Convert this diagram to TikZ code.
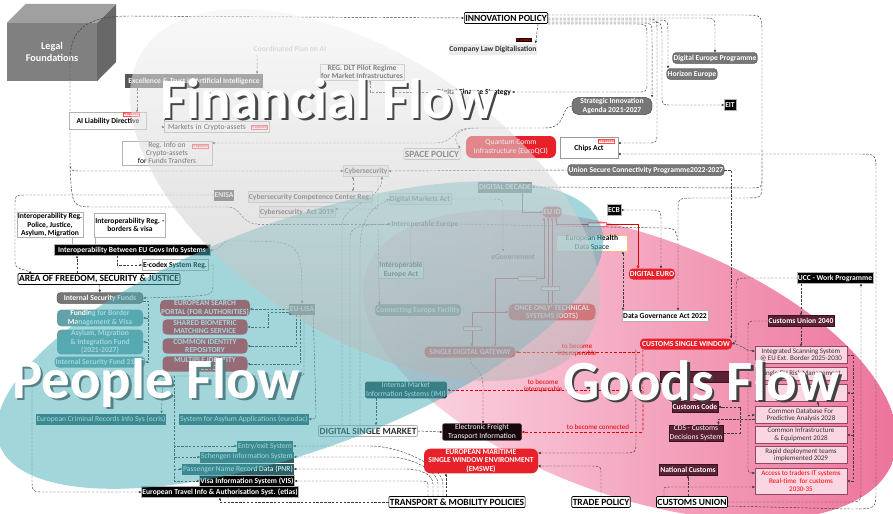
\documentclass[tikz,border=0pt]{standalone}
\usepackage{fontspec}
\setmainfont{Carlito}
\usetikzlibrary{shapes, arrows, calc, positioning, arrows.meta}
\definecolor{xRed}{RGB}{232,32,42}
\definecolor{xPill}{RGB}{118,118,118}
\definecolor{xDarkBox}{RGB}{88,88,88}
\definecolor{xMaroon}{RGB}{92,32,52}
\definecolor{xPinkBox}{RGB}{246,186,206}
\definecolor{xPinkEdge}{RGB}{150,70,100}
\definecolor{xTealDark}{RGB}{40,98,102}
\definecolor{xTealPill}{RGB}{98,162,168}
\definecolor{xTeal}{RGB}{78,176,186}
\definecolor{xLine}{RGB}{60,60,60}
\definecolor{xPinkL}{RGB}{253,226,235}
\definecolor{xPinkR}{RGB}{236,112,152}
\definecolor{xOrangeEdge}{RGB}{240,190,120}
\definecolor{xCubeFront}{RGB}{128,128,128}
\definecolor{xCubeTop}{RGB}{160,160,160}
\definecolor{xCubeSide}{RGB}{104,104,104}

\pgfdeclarelayer{bg}
\pgfdeclarelayer{lines}
\pgfdeclarelayer{veil}
\pgfdeclarelayer{top}
\pgfsetlayers{bg,lines,main,veil,top}

\newcommand{\pw}{0.05cm}

\tikzset{
  base/.style={inner sep=1.3pt, align=center, minimum height=11*\pw, font=\fontsize{10.8}{11.8}\selectfont\bfseries},
  boxw/.style={base, draw=gray!60, fill=white},
  boxlg/.style={base, draw=gray!45, fill=gray!12, text=gray!60!black},
  boxdg/.style={base, fill=xDarkBox, text=white},
  boxblk/.style={base, fill=black, text=white, draw=gray!60},
  pillg/.style={base, fill=xPill, draw=gray!40!black, text=white, rounded corners=5pt},
  pillr/.style={base, fill=xRed, text=white, rounded corners=6pt},
  pillt/.style={base, fill=xTealPill, text=white, rounded corners=6pt},
  boxm/.style={base, fill=xMaroon, text=white, draw=xMaroon!60!black},
  boxp/.style={base, font=\fontsize{10}{11}\selectfont, fill=xPinkBox!60, draw=xPinkEdge, text=black!80},
  boxt/.style={base, font=\fontsize{10.8}{11.8}\selectfont, fill=xTealDark, text=white},
  policy/.style={base, font=\fontsize{13.5}{14}\selectfont\bfseries, draw=black, line width=0.9pt, fill=white, rounded corners=1.5pt, inner sep=1.4pt},
  cube/.style={fill=xCubeFront, text=white, align=center, font=\fontsize{14.5}{17}\selectfont\bfseries},
  tag/.style={draw=red!70, fill=white, text=red!85, font=\fontsize{5.5}{6}\selectfont\bfseries, inner sep=0.6pt},
  dep/.style={draw=red!60, fill=white, text=red!70, font=\fontsize{5}{5.5}\selectfont, inner sep=0.6pt},
  redtxt/.style={text=red!85!black, font=\fontsize{10}{10.5}\selectfont, align=center, inner sep=0pt},
  connl/.style={draw=xLine, dash pattern=on 3.5pt off 2pt, line width=0.65pt},
  conn/.style={connl, -{Triangle[length=3.5pt,width=3.2pt]}},
  conn2/.style={connl, {Triangle[length=3.5pt,width=3.2pt]}-{Triangle[length=3.5pt,width=3.2pt]}},
  glink/.style={draw=gray!55!black, line width=0.8pt, -{Triangle[length=3.5pt,width=3.2pt]}},
  thin/.style={draw=gray!60, line width=0.6pt},
  rdash/.style={draw=red!85!black, dash pattern=on 4pt off 2.5pt, line width=0.9pt},
  rconn/.style={rdash, -{Triangle[length=4pt,width=3.5pt]}},
  rline/.style={draw=red!85!black, line width=0.9pt, -{Triangle[length=4pt,width=3.5pt]}},
  rdia/.style={rline, {Diamond[open,length=5pt,width=4pt]}-{Triangle[length=4pt,width=3.5pt]}},
  title/.style={anchor=base west, inner sep=0pt, font=\fontsize{81}{81}\selectfont\bfseries},
}

\begin{document}
\begin{tikzpicture}[x=0.05cm, y=-0.05cm]
  \useasboundingbox (0,0) rectangle (893,513);

  % goods flow ellipse and the legal cube at the back
  \begin{pgfonlayer}{bg}
    \shade[left color=xPinkL, right color=xPinkR, rotate around={-20:(630,365)}] (630,365) ellipse (280 and 130);
    \node[cube, minimum width=90*\pw, minimum height=58*\pw] (legal) at (52,52) {Legal\\Foundations};
    \fill[xCubeTop] (legal.north west) -- ++(19,-19) -- ++(90,0) -- (legal.north east) -- cycle;
    \fill[xCubeSide] (legal.north east) -- ++(19,-19) -- ++(0,58) -- (legal.south east) -- cycle;
  \end{pgfonlayer}

  % financial flow
  \node[base, text=gray!50] (coordai) at (290,49) {Coordinated Plan on AI};
  \node[boxdg, minimum width=138*\pw, minimum height=14*\pw] (excel) at (194,81) {Excellence \& Trust in Artificial Intelligence};
  \node[boxw] (dlt) at (362,72) {REG. DLT Pilot Regime\\for Market Infrastructures};
  \node[boxw, minimum width=77*\pw, minimum height=17*\pw] (ailia) at (108,121) {AI Liability Directive};
  \node[tag] at (131,114) {Proposed};
  \node[boxw, font=\fontsize{10.8}{11.8}\selectfont, minimum width=105*\pw, text width=98*\pw, align=left] (mica) at (217,127) {Markets in Crypto-assets};
  \node[tag] at (259,127) {Proposed};
  \node[boxw, font=\fontsize{10.8}{11.8}\selectfont, minimum width=90*\pw] (regcrypto) at (167,153) {Reg. Info on\\Crypto-assets\\for Funds Transfers};
  \node[tag] at (200,146) {Proposed};
  \node[base, text=black] (strat) at (474,92) {Digital Finance Strategy};
  \node[policy, draw=gray!60, text=gray!45!black] (space) at (432,154) {SPACE POLICY};
  \node[pillr, font=\fontsize{10.8}{11.8}\selectfont, minimum width=90*\pw, minimum height=22*\pw, rounded corners=9pt] (euroqci) at (511,147) {Quantum Comm\\Infrastructure (EuroQCI)};

  % innovation policy
  \node[policy] (innov) at (506,18) {INNOVATION POLICY};
  \node[fill=black, text=red, font=\fontsize{5.5}{6}\selectfont\bfseries, inner sep=0.8pt] (planned) at (524,40) {PLANNED};
  \node[base, fill=gray!15, text=black!80] (complaw) at (493,49) {Company Law Digitalisation};
  \node[pillg] (digeu) at (715,58) {Digital Europe Programme};
  \node[pillg] (horizon) at (692,74) {Horizon Europe};
  \node[boxblk] (eit) at (730,105) {EIT};
  \node[pillg, rounded corners=8pt, minimum width=80*\pw] (sia) at (612,106) {Strategic Innovation\\Agenda 2021-2027};
  \node[boxw, draw=gray!80, minimum width=58*\pw, minimum height=21*\pw] (chips) at (589,148) {Chips Act};
  \node[tag] at (606,141) {Proposed};
  \node[pillg] (uscp) at (646,170) {Union Secure Connectivity Programme2022-2027};

  % digital band
  \node[boxlg] (cyber) at (366,171) {Cybersecurity};
  \node[boxdg] (enisa) at (224,195) {ENISA};
  \node[boxlg] (cccr) at (310,197) {Cybersecurity Competence Center Reg.};
  \node[boxlg] (csa) at (297,212) {Cybersecurity~~Act 2019};
  \node[boxlg] (dma) at (420,199) {Digital Markets Act};
  \node[base, text=gray!55!black] (ieu) at (425,224) {Interoperable Europe};
  \node[boxdg] (ddec) at (505,187) {DIGITAL DECADE};
  \node[pillr] (euid) at (552,212) {EU ID};
  \node[boxblk] (ecb) at (614,210) {ECB};
  \node[boxw, draw=xOrangeEdge, font=\fontsize{10.8}{11.8}\selectfont, minimum width=71*\pw] (ehds) at (592,243) {European \textbf{Health}\\Data Space};
  \node[base, text=gray!55!black] (egov) at (513,257) {eGovernment};
  \node[pillr] (deuro) at (652,274) {DIGITAL EURO};
  \node[boxw] (dga) at (665,316) {Data Governance Act 2022};
  \node[boxw] (ieact) at (401,270) {Interoperable\\Europe Act};
  \node[pillg] (cef) at (418,310) {Connecting Europe Facility};
  \node[pillr, minimum width=87*\pw, rounded corners=8pt] (oots) at (552,312) {ONCE ONLY' TECHNICAL\\SYSTEMS (OOTS)};
  \node[pillr, minimum width=91*\pw] (sdg) at (470,352) {SINGLE DIGITAL GATEWAY};
  \node[pillr, minimum width=92*\pw] (csw) at (686,344) {CUSTOMS SINGLE WINDOW};
  \node[boxt, fill=xTealDark!75!black, rounded corners=2pt, minimum width=77*\pw] (imi) at (406,390) {Internal Market\\Information Systems (IMI)};
  \node[boxm, font=\fontsize{10.8}{11.8}\selectfont, fill=black!75!xMaroon, rounded corners=2pt, minimum width=79*\pw] (efti) at (482,432) {Electronic Freight\\Transport Information};
  \node[pillr, rounded corners=9pt, minimum width=114*\pw] (emswe) at (481,461) {EUROPEAN MARITIME\\SINGLE WINDOW ENVIRONMENT\\(EMSWE)};
  \node[policy] (tmp) at (457,502) {TRANSPORT \& MOBILITY POLICIES};
  \node[policy] (trade) at (601,502) {TRADE POLICY};
  \node[policy] (cunion) at (692,502) {CUSTOMS UNION};
  \node[policy, draw=gray!60, text=gray!35!black] (dsm) at (368,431) {DIGITAL SINGLE MARKET};

  % goods flow
  \node[boxblk] (ucc) at (835,278) {UCC - Work Programme};
  \node[boxm] (cu2040) at (801,321) {Customs Union 2040};
  \node[boxp, minimum width=92*\pw, minimum height=17*\pw] (iss) at (801,355) {Integrated Scanning System\\@ EU Ext. Border 2025-2030};
  \node[boxp, minimum width=92*\pw, minimum height=13*\pw] (rm) at (801,374) {Single EU Risk Management};
  \node[boxp, minimum width=92*\pw, minimum height=17*\pw] (hid) at (801,393) {};
  \node[boxp, minimum width=92*\pw, minimum height=17*\pw] (cdb) at (801,415) {Common Database For\\Predictive Analysis 2028};
  \node[boxp, minimum width=92*\pw, minimum height=17*\pw] (cie) at (801,435) {Common Infrastructure\\\& Equipment 2028};
  \node[boxp, minimum width=92*\pw, minimum height=17*\pw] (rdt) at (801,455) {Rapid deployment teams\\implemented 2029};
  \node[boxp, minimum width=92*\pw, minimum height=26*\pw, text=red] (atr) at (801,481) {Access to traders IT systems\\Real-time~~for customs\\2030-35};
  \node[boxm, minimum width=72*\pw] (adv) at (696,377) {};
  \node[boxm] (ccode) at (695,407) {Customs Code};
  \node[boxm, font=\fontsize{10.8}{11.8}\selectfont] (cds) at (696,433) {CDS - Customs\\Decisions System};
  \node[boxm] (natc) at (688,470) {National Customs};

  % people flow
  \node[boxw, minimum width=65*\pw] (irpol) at (50,225) {Interoperability Reg.\\Police, Justice,\\Asylum, Migration};
  \node[boxw, minimum width=71*\pw, minimum height=24*\pw] (irbor) at (130,225) {Interoperability Reg. -\\borders \& visa};
  \node[boxblk, minimum width=156*\pw] (ibeu) at (132,250) {Interoperability Between EU Govs Info Systems};
  \node[boxw] (ecodex) at (175,265) {E-codex System Reg.};
  \node[policy] (afsj) at (99,279) {AREA OF FREEDOM, SECURITY \& JUSTICE};
  \node[pillg, minimum width=86*\pw] (isf) at (100,298) {Internal Security Funds};
  \node[pillt, minimum width=86*\pw] (fbm) at (100,318) {Funding for Border\\Management \& Visa};
  \node[pillt, minimum width=86*\pw] (amif) at (100,342) {Asylum, Migration\\\& Integration Fund\\(2021-2027)};
  \node[pillt, minimum width=86*\pw] (isf21) at (100,362) {Internal Security Fund 21-27};
  \node[boxdg] (eulisa) at (302,309) {EU-LISA};
  \node[pillr, minimum width=85*\pw] (esp) at (205,308) {EUROPEAN SEARCH\\PORTAL (FOR AUTHORITIES)};
  \node[pillr, minimum width=85*\pw] (sbms) at (205,327) {SHARED BIOMETRIC\\MATCHING SERVICE};
  \node[pillr, minimum width=85*\pw] (cir) at (205,346) {COMMON IDENTITY\\REPOSITORY};
  \node[pillr, minimum width=85*\pw] (mid) at (205,364) {MULTIPLE IDENTITY\\DETECTOR};
  \node[boxt] (ecris) at (101,419) {European Criminal Records Info Sys (ecris)};
  \node[boxt] (eurodac) at (244,419) {System for Asylum Applications (eurodac)};
  \node[boxt] (ees) at (265,446) {Entry/exit System};
  \node[boxt] (sis) at (247,457) {Schengen Information System};
  \node[boxt] (pnr) at (238,469) {Passenger Name Record Data (PNR)};
  \node[boxblk] (vis) at (247,481) {Visa Information System (VIS)};
  \node[boxblk] (etias) at (220,492) {European Travel Info \& Authorisation Syst. (etias)};

  % red labels
  \node[redtxt] at (577,350) {to become\\interoperable};
  \node[redtxt] at (543,386) {to become\\interoperable};
  \node[redtxt] at (598,427) {to become connected};
  \node[dep] at (597,224) {depends on};
  \node[dep] at (527,278) {depends on};
  \node[dep] at (550,288) {depends on};
  \node[dep] at (472,328) {depends on};

  \coordinate (lf) at (70,62);
  \coordinate (ib) at (762,150);
  \coordinate (rbus) at (642,350);
  \coordinate (fb) at (148,300);
  \coordinate (ljn) at (238,241);
  \coordinate (lb) at (174,430);
  \coordinate (rs) at (853,357);

  \begin{pgfonlayer}{lines}
    % legal foundations
    \draw[conn] (lf) .. controls (70,30) and (85,16) .. (130,16) -- (innov.west);
    \draw[conn] (lf) -- (70,160) .. controls (70,171) .. (82,171) -- (cyber.west);
    \draw[connl] (70,166) .. controls (72,207) .. (95,207) -- (228,207) .. controls (242,207) and (240,224) .. (258,224);
    \draw[conn] (258,224) -- (ieu.west);
    % innovation policy bundle
    \draw[conn] ($(innov.south)+(32,0)$) -- ($(complaw.north east)+(-2,0)$);
    \draw[conn] (innov.east) -- (700,18) .. controls (715,18) .. (715,30) -- (digeu.north);
    \draw[connl] ($(innov.east)+(0,-3)$) -- (745,15) .. controls (762,15) .. (762,35) -- (ib);
    \draw[conn] ($(innov.east)+(0,2)$) -- (656,20) .. controls (668,20) .. (668,34) -- ($(horizon.north)+(-24,0)$);
    \draw[conn] ($(innov.east)+(0,4)$) -- (650,22) .. controls (662,22) .. (662,40) -- (662,96) .. controls (662,105) .. (672,105) -- (eit.west);
    \draw[conn] ($(innov.east)+(0,5)$) -- (642,23) .. controls (652,23) .. (652,36) -- (sia.north east);
    \draw[conn] ($(innov.east)+(0,6)$) -- (636,24) .. controls (647,24) .. (647,38) -- (647,82) .. controls (647,92) .. (636,92) -- (strat.east);
    \draw[conn] ($(innov.east)+(0,1)$) -- (648,19) .. controls (657,19) .. (657,34) -- (657,132) .. controls (657,143) .. (646,143) -- ($(chips.east)+(0,-5)$);
    \draw[conn] ($(cunion.east)+(0,4)$) -- (850,509) .. controls (876,509) .. (876,490) -- (876,172) .. controls (876,154) .. (858,154) -- ($(chips.east)+(0,6)$);
    \draw[conn] (cunion.east) -- (846,502) .. controls (861,502) .. (861,488) -- ($(ucc.south)+(26,0)$);
    \draw[conn] (ib) -- (762,176) .. controls (762,188) .. (748,188) -- (ddec.east);
    \draw[conn] (ib) -- (762,182) .. controls (762,198) .. (745,198) -- (695,198) .. controls (678,198) .. (678,212) -- ($(dga.north)+(13,0)$);
    \draw[connl] (ieu.east) -- (660,228) .. controls (675,228) .. (678,240);
    \draw[conn] (uscp.east) -| ($(csw.north east)+(-1,0)$);
    \draw[conn] (uscp.west) -- (cyber.east);
    % financial flow links
    \draw[conn] ($(coordai.south)+(-33,0)$) -- ($(excel.north east)+(-6,0)$);
    \draw[conn] ($(excel.south)+(-57,0)$) -- ($(ailia.north)+(29,0)$);
    \draw[conn] ($(excel.south)+(-30,0)$) |- (mica.west);
    \draw[conn] (strat.west) -| ($(dlt.south)+(8,0)$);
    \draw[conn] (sia.west) .. controls (560,106) and (568,128) .. (545,128) -- (470,128) .. controls (452,128) and (455,143) .. (435,143) -- ($(regcrypto.east)+(0,-10)$);
    \draw[conn] (478,128) .. controls (460,128) and (450,135) .. (space.north east);
    % cybersecurity and digital decade
    \draw[conn2] ($(cyber.south)+(-13,0)$) -- ($(cccr.north)+(43,0)$);
    \draw[conn] ($(cyber.south)+(12,0)$) -- (378,202) .. controls (378,209) .. (370,209) -- ($(csa.east)+(0,-3)$);
    \draw[conn] (enisa.west) -- (26,195) .. controls (15,195) .. (15,207) -- (15,262) .. controls (15,270) and (22,268) .. ($(afsj.north west)+(14,0)$);
    \draw[glink] ($(ddec.south)+(17,0)$) |- (euid.west);
    \draw[conn2] (ecb.east) -- (650,210) .. controls (661,210) .. (661,222) -- ($(deuro.north)+(9,0)$);
    \draw[conn2] ($(ehds.south)+(31,0)$) -- ($(dga.north)+(-42,0)$);
    \draw[conn] (dma.east) -- (492,199) .. controls (503,199) .. (503,212) -- ($(egov.north)+(-10,0)$);
    \draw[thin, draw=orange!60] ($(ieu.south)+(-15,0)$) -- ($(ieact.north)+(9,0)$);
    % digital single market
    \draw[conn] (dsm.east) -- (efti.west);
    \draw[conn] ($(dsm.north)+(-26,0)$) -- (342,225) .. controls (342,205) and (382,200) .. ($(cyber.south)+(16,0)$);
    \draw[conn] ($(dsm.north)+(-18,0)$) -- (350,238) .. controls (350,226) and (360,225) .. (ieu.west);
    \draw[conn] ($(dsm.north)+(-8,0)$) -- (360,250) .. controls (360,210) and (380,205) .. (dma.west);
    \draw[conn] ($(ieu.south)+(-47,0)$) -- ($(cef.north west)+(4,0)$);
    \draw[conn] ($(imi.south)+(-30,0)$) -- ($(dsm.north)+(8,0)$);
    \draw[conn] (sdg.south) .. controls (470,368) and (483,368) .. (483,385) -- ($(efti.north)+(1,0)$);
    \draw[conn] (trade.north) -- (601,474) .. controls (601,466) .. (590,466) -- ($(emswe.east)+(0,5)$);
    \draw[conn] ($(csw.south west)+(-4,0)$) -- (636,440) .. controls (636,453) .. (622,453) -- ($(emswe.east)+(0,-8)$);
    % red links
    \draw[rconn] (sdg.east -| csw.west) -- (sdg.east);
    \draw[rdash] ($(csw.south west)+(3,0)$) -- (643,432);
    \draw[rconn] (imi.east -| rbus) -- (imi.east);
    \draw[rconn] (efti.east -| rbus) -- (efti.east);
    \draw[rline] ($(oots.north)+(-4,0)$) -- ($(euid.south)+(-4,0)$);
    \draw[rline] (oots.north) -- (euid.south);
    \draw[rdia] ($(deuro.north)+(-14,0)$) |- (556,224) -- ($(euid.south)+(4,0)$);
    \draw[rdia] ($(sdg.north)+(25,0)$) |- (544,278) -- ($(euid.south)+(-8,0)$);
    \draw[rdia] ($(sdg.north)+(2,0)$) |- (oots.west);
    % customs
    \draw[conn] (ucc.south -| cu2040.north) -- (cu2040.north);
    \draw[conn] (ucc.west) -- (748,278) .. controls (736,278) .. (736,292) -- (736,335) .. controls (736,342) .. (csw.east);
    \draw[conn] (cu2040.south) -- (iss.north);
    \draw[conn] (cu2040.west) -- (756,321) .. controls (748,321) .. (748,330) -- (748,466) .. controls (748,473) .. ($(atr.west)+(0,-8)$);
    \draw[conn] (748,415) -- (cdb.west);
    \draw[conn] (csw.east) .. controls (742,344) and (745,351) .. ($(iss.west)+(0,-4)$);
    \draw[connl] (iss.east) -| (853,481);
    \foreach \n in {hid,cie,atr}
      \draw[conn] (\n.east -| rs) -- (\n.east);
    \draw[conn] ($(cdb.north)+(17,0)$) -- ($(hid.south)+(17,0)$);
    \draw[conn] ($(cdb.west)+(0,4)$) -| ($(cds.north east)+(-5,0)$);
    \draw[conn] (cds.east) -- (740,433) |- (ccode.east);
    \draw[conn] (cunion.north -| natc.south) -- (natc.south);
    \draw[conn] ($(cunion.north)+(-28,0)$) -- (664,490) .. controls (664,487) .. (672,487) -- ($(atr.west)+(0,6)$);
    % people flow
    \draw[thin] ($(irpol.south)+(22,0)$) -- ($(ibeu.north)+(-60,0)$);
    \draw[thin] ($(irbor.south)+(-35,0)$) -- ($(ibeu.north)+(-37,0)$);
    \draw[conn] ($(afsj.north)+(-22,0)$) -- ($(ibeu.south)+(-55,0)$);
    \draw[conn] ($(ibeu.south)+(-15,0)$) |- (ecodex.west);
    \draw[conn] (ecodex.east) -| (213,286) .. controls (213,296) .. (isf.east);
    \draw[conn] (afsj.south) -- (isf.north);
    \draw[connl] ($(isf.east)+(0,3)$) -| (148,362);
    \foreach \n in {fbm,amif,isf21}
      \draw[conn] (\n.east -| fb) -- (\n.east);
    \draw[conn] (ljn) .. controls (302,241) .. (eulisa.north);
    \draw[conn] (ljn) -- (228,241) .. controls (222,241) and (222,250) .. (ibeu.east);
    \draw[conn] (eulisa.west) -- (esp.east |- eulisa.west);
    \draw[conn] ($(eulisa.west)+(0,3)$) -- (268,312) |- (sbms.east);
    \draw[conn] ($(eulisa.south)+(-6,0)$) |- (cir.east);
    \draw[conn] ($(eulisa.south)+(-2,0)$) |- (mid.east);
    \draw[conn] ($(eulisa.south east)+(-2,0)$) -- (316,412) .. controls (316,419) .. (eurodac.east);
    \draw[conn] ($(eulisa.south)+(2,0)$) -- (304,372) .. controls (304,376) .. (296,376) -- (45,376) .. controls (32,376) .. (32,390) -- (32,478) .. controls (32,492) .. (46,492) -- (etias.west);
    \draw[conn] (163,376) -- ($(ecris.north east)+(-5,0)$);
    \draw[connl] (174,376) -- (lb);
    \foreach \n in {ees,sis,pnr,vis}
      \draw[conn] (lb) |- (\n.west);
    % transport and mobility
    \draw[conn] ($(tmp.north)+(-29,0)$) -- (428,487) .. controls (428,481) .. (418,481) -- (vis.east);
    \draw[conn] ($(tmp.north)+(-24,0)$) -- (433,484) .. controls (433,474) and (420,469) .. (405,469) -- (pnr.east);
    \draw[conn] ($(tmp.north)+(-19,0)$) -- (438,484) .. controls (438,470) and (410,457) .. (390,457) -- (sis.east);
    \draw[conn] ($(tmp.north)+(-14,0)$) -- (443,484) .. controls (443,466) and (400,446) .. (370,446) -- (ees.east);
    \draw[conn] ($(tmp.north)+(-11,0)$) -- ($(emswe.south)+(-35,0)$);
    \draw[conn] (tmp.west) -| (etias.south);
  \end{pgfonlayer}

  % veils of the two flows
  \begin{pgfonlayer}{veil}
    \fill[xTeal, fill opacity=0.52, rotate around={20:(300,335)}] (300,335) ellipse (320 and 115);
    \shade[top color=gray!8, bottom color=gray!60, opacity=0.55, rotate around={-33:(365,195)}] (365,195) ellipse (265 and 140);
  \end{pgfonlayer}

  % titles
  \begin{pgfonlayer}{top}
    \node[title, text=gray!55!black] (finsh) at (162.5,120.5) {Financial Flow};
    \node[title, text=white] (fin) at (160,118) {Financial Flow};
    \node[title, text=xTealDark!80] (peosh) at (14.5,400.5) {People Flow};
    \node[title, text=white] (peo) at (12,398) {People Flow};
    \node[title, text=black!75] (gdsh) at (565.5,402.5) {Goods Flow};
    \node[title, text=white] (gds) at (563,400) {Goods Flow};
  \end{pgfonlayer}
\end{tikzpicture}
\end{document}
